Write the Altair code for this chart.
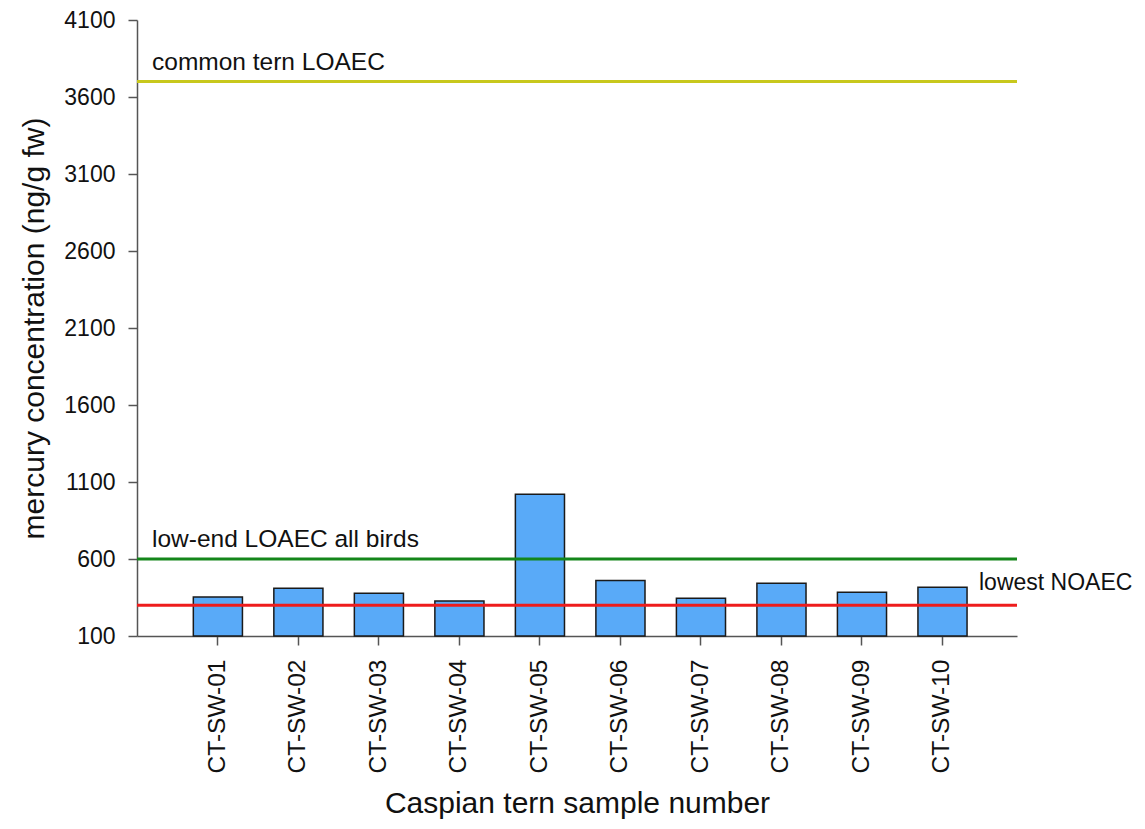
import altair as alt
import pandas as pd

samples = ["CT-SW-01", "CT-SW-02", "CT-SW-03", "CT-SW-04", "CT-SW-05",
           "CT-SW-06", "CT-SW-07", "CT-SW-08", "CT-SW-09", "CT-SW-10"]
mercury = [354, 410, 377, 328, 1021, 460, 345, 443, 384, 417]

ref_names = ["common tern LOAEC", "low-end LOAEC all birds", "lowest NOAEC"]
ref_values = [3700, 600, 300]
ref_colors = ["#c8c81c", "#14861a", "#ee1c1c"]

y_ticks = [100, 600, 1100, 1600, 2100, 2600, 3100, 3600, 4100]

FONT = "Liberation Sans"

bars_df = pd.DataFrame({"sample": samples, "value": mercury})
refs_df = pd.DataFrame({"name": ref_names, "value": ref_values, "color": ref_colors})

yscale = alt.Scale(domain=[100, 4100], zero=False, nice=False)

x_enc = alt.X(
    "sample:N",
    sort=samples,
    scale=alt.Scale(paddingInner=0.39, paddingOuter=0.66, align=0.53),
    axis=alt.Axis(
        title="Caspian tern sample number",
        labelAngle=-90, labelAlign="right", labelBaseline="middle",
        labelFontSize=24.5, labelFont=FONT, labelColor="#111111",
        labelPadding=14, tickSize=9, tickColor="#555555", tickWidth=1.5,
        domainColor="#555555", domainWidth=1.5,
        titleFontSize=30, titleFont=FONT, titleFontWeight="normal",
        titleColor="#111111", titlePadding=16,
    ),
)

y_axis = alt.Axis(
    title="mercury concentration (ng/g fw)",
    values=y_ticks, format="d",
    labelFontSize=23, labelFont=FONT, labelColor="#111111",
    labelPadding=13, tickSize=9, tickColor="#555555", tickWidth=1.5,
    domainColor="#555555", domainWidth=1.5, grid=False,
    titleFontSize=30, titleFont=FONT, titleFontWeight="normal",
    titleColor="#111111", titlePadding=14,
)

bars = alt.Chart(bars_df).mark_bar(
    color="#59aaf8", stroke="#1a1a1a", strokeWidth=1.5
).encode(
    x=x_enc,
    y=alt.Y("value:Q", scale=yscale, axis=y_axis),
    y2=alt.datum(100),
)

rules = alt.Chart(refs_df).mark_rule(strokeWidth=3).encode(
    y=alt.Y("value:Q", scale=yscale),
    color=alt.Color("color:N", scale=None),
)

left_labels = alt.Chart(refs_df[refs_df["value"] > 500]).mark_text(
    align="left", baseline="alphabetic", dy=-12, fontSize=24.5, font=FONT, color="#111111"
).encode(
    x=alt.value(15),
    y=alt.Y("value:Q", scale=yscale),
    text="name:N",
)

right_labels = alt.Chart(refs_df[refs_df["value"] < 500]).mark_text(
    align="left", baseline="alphabetic", dy=-15, fontSize=23, font=FONT, color="#111111"
).encode(
    x=alt.value(842),
    y=alt.Y("value:Q", scale=yscale),
    text="name:N",
)

chart = alt.layer(bars, rules, left_labels, right_labels).properties(
    width=880,
    height=616,
    autosize=alt.AutoSizeParams(type="none"),
    padding={"left": 129, "top": 12, "right": 120, "bottom": 190},
    background="white",
).configure_view(stroke=None)

chart.save("out.html", embed_options={"renderer": "svg", "actions": False})
